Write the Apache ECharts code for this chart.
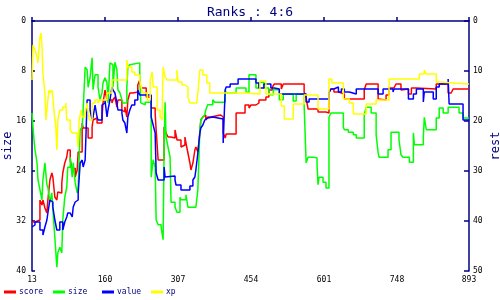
<!DOCTYPE html>
<html>
<head>
<meta charset="utf-8">
<script src="https://cdn.jsdelivr.net/npm/echarts@6/dist/echarts.min.js"></script>
<style>html,body{margin:0;padding:0;background:#fff}#c{width:500px;height:300px}</style>
</head>
<body>
<div id="c"></div>
<script>
// x ticks / axis ranges
const xTicks = [13, 160, 307, 454, 601, 748, 893];
const seriesNames = ['score', 'size', 'value', 'xp'];

// score (right axis "rest")
const score = [[13,40.2],[19,39.8],[29,35.8],[33,36.8],[35,35.8],[39,37.4],[43,38.4],[45,35.8],[49,31.8],[53,30.4],[55,31.2],[59,35.2],[63,35.8],[65,34.2],[69,34.4],[73,32.4],[75,30.4],[79,28.4],[83,27.2],[85,25.8],[90,27.8],[94,29.8],[96,29.4],[100,31.2],[104,29.8],[106,26.2],[114,20.4],[116,21.4],[126,23.4],[134,21.2],[136,19.8],[140,19.4],[144,20.4],[154,19.2],[156,16.4],[160,13.8],[164,15.8],[174,16.4],[176,15.8],[180,15.2],[184,17.2],[186,15.8],[194,17.8],[196,18.2],[200,17.2],[204,19.2],[206,15.8],[210,14.4],[216,14.2],[226,12.8],[230,11.8],[232,13.4],[243,15.2],[253,17.4],[261,18.4],[263,21.8],[267,27.8],[279,21.2],[283,22.4],[287,23.2],[293,23.4],[301,21.8],[305,23.8],[313,25.2],[317,24.8],[321,23.2],[323,24.4],[327,26.4],[331,28.4],[333,29.8],[337,28.4],[341,25.8],[343,25.2],[347,26.2],[351,22.4],[353,19.8],[357,19.2],[361,18.8],[363,19.8],[367,19.2],[373,18.8],[393,19.2],[398,22.4],[402,23.4],[404,22.6],[424,18.4],[442,16.8],[450,17.4],[454,16.8],[464,16.4],[470,15.8],[484,15.2],[490,13.8],[497,13.2],[501,12.6],[515,13.6],[519,12.6],[561,14.2],[565,15.4],[569,17.6],[589,18.2],[605,18.4],[611,14.2],[615,13.6],[621,14.2],[630,14.6],[642,15.6],[682,13.8],[686,12.6],[710,15.6],[712,15.8],[726,14.8],[732,13.4],[742,13.2],[746,12.6],[756,13.8],[760,13.6],[771,14.6],[777,13.4],[787,13.6],[827,12.6],[851,14.4],[857,14.2],[861,13.6],[893,13.6]];

// size (left axis "size")
const size = [[13,14.7],[15,17.0],[17,19.0],[19,20.6],[23,22.6],[25,25.4],[29,27.0],[33,28.6],[35,25.4],[39,22.7],[43,26.2],[45,26.6],[49,29.0],[53,27.5],[55,30.2],[59,34.6],[63,39.4],[65,37.1],[69,36.2],[73,37.1],[75,31.8],[79,28.2],[83,26.6],[85,23.4],[90,21.8],[94,25.0],[96,22.7],[100,25.9],[104,27.5],[106,26.6],[110,17.4],[114,17.0],[116,14.2],[120,7.4],[124,7.8],[126,10.6],[130,9.0],[134,5.9],[136,11.0],[140,8.6],[146,10.6],[150,12.6],[154,11.5],[156,9.9],[160,9.1],[164,9.9],[166,13.1],[170,6.7],[174,7.0],[176,10.6],[180,6.6],[184,7.8],[186,11.0],[190,11.5],[194,12.6],[196,13.1],[204,10.6],[206,7.4],[210,7.0],[214,6.7],[230,8.3],[232,13.1],[234,13.4],[241,13.0],[253,25.0],[257,22.2],[261,23.4],[263,31.8],[267,32.6],[273,33.0],[277,35.0],[279,20.6],[281,13.0],[283,18.6],[287,20.2],[291,21.8],[293,29.0],[301,29.8],[305,30.6],[311,28.2],[313,28.6],[323,27.8],[327,29.8],[343,29.8],[347,27.0],[351,17.4],[353,15.8],[357,15.4],[361,15.0],[363,14.2],[367,13.4],[377,12.6],[381,13.0],[402,11.0],[404,11.5],[424,10.7],[444,11.4],[450,8.6],[464,10.7],[470,9.8],[480,10.7],[490,11.8],[499,11.0],[511,12.6],[519,11.7],[539,12.8],[545,11.7],[561,13.4],[565,22.7],[569,21.8],[579,21.9],[587,23.0],[589,26.2],[591,25.0],[599,25.8],[605,26.7],[611,15.4],[615,14.7],[640,17.0],[642,17.4],[650,17.8],[660,18.2],[666,18.7],[682,15.0],[686,13.8],[696,14.7],[706,18.2],[710,21.1],[712,21.8],[730,20.6],[736,17.8],[752,19.0],[756,21.4],[760,21.8],[773,22.6],[781,17.9],[783,19.8],[801,18.6],[803,15.4],[807,17.4],[827,15.5],[833,13.9],[841,14.7],[851,13.8],[873,14.7],[881,15.5],[893,15.5]];

// value (right axis "rest")
const value = [[13,41.2],[15,40.8],[19,40.2],[29,41.8],[35,42.8],[39,41.2],[43,39.8],[45,38.4],[49,35.8],[53,36.2],[55,37.2],[59,39.8],[63,41.8],[69,40.2],[75,41.8],[79,40.2],[83,39.2],[85,38.4],[90,38.2],[94,39.2],[96,37.2],[100,36.2],[104,35.8],[106,34.4],[110,28.4],[114,27.8],[116,29.2],[120,27.8],[122,21.8],[124,15.8],[130,17.8],[134,19.8],[136,19.2],[140,16.8],[144,19.2],[146,19.8],[154,16.8],[156,16.4],[160,15.8],[164,19.2],[166,17.8],[170,15.8],[174,13.2],[176,13.8],[180,14.4],[184,16.4],[186,17.8],[194,18.4],[196,19.8],[200,20.4],[204,22.4],[206,19.2],[210,17.8],[214,16.8],[220,15.8],[226,13.8],[230,14.8],[253,19.2],[257,20.8],[261,22.4],[263,30.4],[267,31.8],[279,29.2],[281,31.2],[283,31.0],[301,31.8],[303,32.8],[313,33.8],[331,33.0],[337,31.8],[341,31.2],[343,29.8],[347,26.4],[351,22.4],[353,21.4],[357,20.8],[361,19.8],[363,19.4],[367,19.2],[377,19.6],[398,24.4],[402,13.8],[404,13.2],[412,12.6],[428,11.6],[464,12.4],[470,13.4],[480,12.6],[494,13.4],[501,13.6],[511,14.6],[565,16.2],[571,15.6],[611,14.4],[615,13.6],[621,13.2],[630,14.2],[636,13.6],[642,14.2],[652,14.6],[666,13.6],[710,14.6],[720,13.6],[740,14.2],[742,13.6],[771,15.6],[781,14.6],[787,13.6],[801,16.2],[803,14.2],[821,15.6],[827,13.2],[833,12.6],[851,11.6],[853,16.6],[881,19.8],[893,19.8]];

// xp (right axis "rest")
const xp = [[13,11.8],[15,4.8],[19,5.8],[23,7.2],[25,8.4],[29,3.2],[31,2.4],[33,4.8],[35,10.4],[39,14.4],[41,19.8],[43,17.8],[47,13.8],[49,14.4],[53,13.8],[55,15.2],[57,17.8],[61,21.2],[63,25.8],[65,19.8],[69,17.8],[75,17.2],[81,16.4],[83,19.8],[90,21.8],[94,22.4],[104,23.4],[106,25.2],[108,19.8],[112,17.8],[114,19.2],[120,18.4],[124,16.4],[128,19.8],[134,16.4],[140,15.8],[146,16.4],[150,15.8],[164,14.4],[174,11.8],[194,11.8],[204,7.8],[206,9.2],[214,10.2],[220,10.8],[230,11.8],[234,13.8],[237,14.4],[245,15.8],[251,11.8],[255,10.2],[257,13.2],[265,17.8],[271,19.2],[275,19.8],[277,9.2],[281,11.2],[285,11.8],[305,9.8],[307,12.2],[315,12.8],[321,13.2],[327,15.2],[331,16.4],[345,15.8],[347,14.4],[351,9.8],[357,10.8],[365,12.4],[371,14.4],[444,14.6],[472,12.0],[484,14.6],[515,17.0],[521,19.6],[539,16.6],[561,14.8],[589,17.6],[611,11.6],[617,12.4],[640,15.6],[652,16.4],[660,18.6],[686,16.6],[706,15.8],[732,11.6],[793,10.6],[803,9.8],[807,10.6],[827,12.2],[833,12.6],[893,12.6]];

const colors = ['#ff0000', '#00ff00', '#0000ff', '#ffff00'];
const dataSets = [score, size, value, xp];
const axisIdx = [1, 0, 1, 1];

const NAVY = '#000080';
const mono = 'DejaVu Sans Mono';

const chart = echarts.init(document.getElementById('c'), null, {renderer: 'canvas'});
const legendLeft = [4, 53, 102, 151];
chart.setOption({
  animation: false,
  backgroundColor: '#ffffff',
  title: {
    text: 'Ranks : 4:6', left: 'center', top: 1,
    textStyle: {color: NAVY, fontFamily: mono, fontSize: 13, fontWeight: 'normal'}
  },
  legend: seriesNames.map((n, i) => ({
    data: [n], left: legendLeft[i], top: 288, padding: 0,
    itemWidth: 12, itemHeight: 3, icon: 'rect', itemGap: 0,
    textStyle: {color: NAVY, fontFamily: mono, fontSize: 8, padding: [0, 0, 0, -2]}
  })),
  grid: {left: 32, right: 31, top: 21, bottom: 29, containLabel: false, outerBoundsMode: 'none'},
  xAxis: {
    type: 'value', min: xTicks[0], max: xTicks[xTicks.length - 1], interval: 147,
    axisLine: {lineStyle: {color: NAVY, width: 1.5}},
    axisTick: {inside: true, length: 4, lineStyle: {color: NAVY, width: 1.5}},
    axisLabel: {color: '#000', fontFamily: mono, fontSize: 8, margin: 5, showMaxLabel: true},
    splitLine: {show: false}
  },
  yAxis: [
    {
      type: 'value', name: 'size', inverse: true, min: 0, max: 40, interval: 8, position: 'left',
      nameLocation: 'middle', nameRotate: 90, nameGap: 18, nameMoveOverlap: false,
      nameTextStyle: {color: NAVY, fontFamily: mono, fontSize: 12},
      axisLine: {show: true, lineStyle: {color: NAVY, width: 1.5}},
      axisTick: {show: true, inside: true, length: 3, lineStyle: {color: NAVY, width: 1.5}},
      axisLabel: {color: '#000', fontFamily: mono, fontSize: 8, margin: 6},
      splitLine: {show: false}
    },
    {
      type: 'value', name: 'rest', inverse: true, min: 0, max: 50, interval: 10, position: 'right',
      nameLocation: 'middle', nameRotate: 90, nameGap: 21, nameMoveOverlap: false,
      nameTextStyle: {color: NAVY, fontFamily: mono, fontSize: 12},
      axisLine: {show: true, lineStyle: {color: NAVY, width: 1.5}},
      axisTick: {show: true, inside: true, length: 5, lineStyle: {color: NAVY, width: 1.5}},
      axisLabel: {color: '#000', fontFamily: mono, fontSize: 8, margin: 4},
      splitLine: {show: false}
    }
  ],
  series: seriesNames.map((n, i) => ({
    name: n, type: 'line', step: 'end', showSymbol: false, symbol: 'none',
    yAxisIndex: axisIdx[i], data: dataSets[i],
    itemStyle: {color: colors[i]},
    lineStyle: {color: colors[i], width: 1.5}
  }))
});
</script>
</body>
</html>
